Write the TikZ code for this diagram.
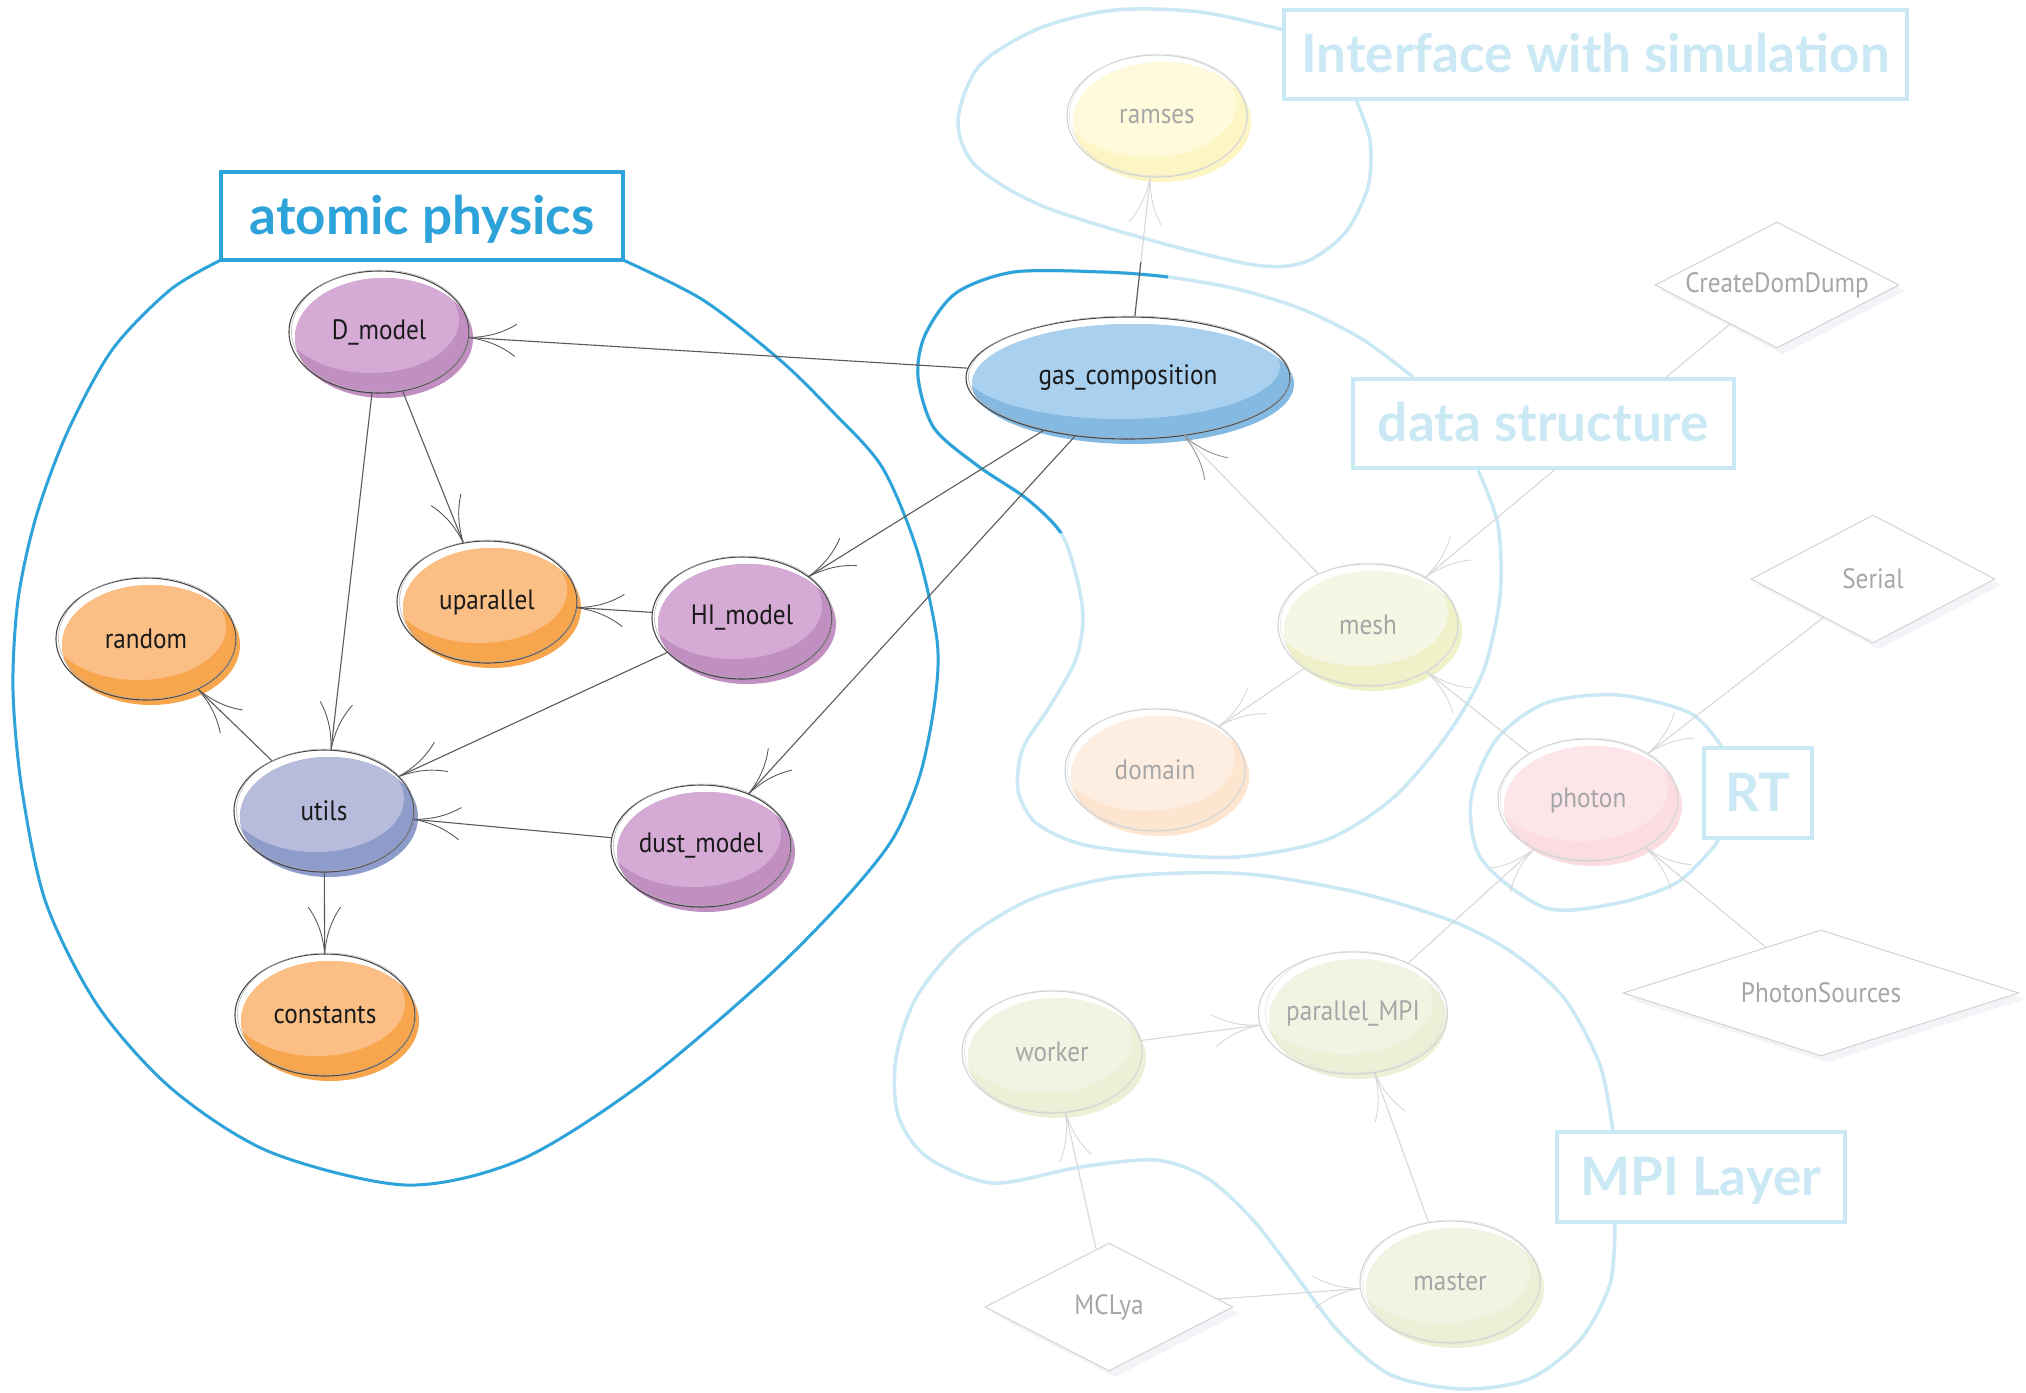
\documentclass[tikz,border=0pt]{standalone}
\usepackage{fontspec}
\usetikzlibrary{shapes.geometric,decorations.markings}
\newfontfamily\nodefont[FakeStretch=0.9]{PT Sans}
\newfontfamily\labelfont{Lato}

% palette
\definecolor{atomblue}{HTML}{2EA3DA}
\definecolor{paleblue}{HTML}{CBE8F5}
\definecolor{edgedark}{HTML}{5A5A5A}
\definecolor{edgepale}{HTML}{D8D8D8}
\definecolor{rimdark}{HTML}{474747}
\definecolor{rimpale}{HTML}{D2D2D2}
\definecolor{inkdark}{HTML}{1A1A1A}
\definecolor{txtpale}{HTML}{A6A6A6}
\definecolor{kiteshadecol}{HTML}{F2F4F8}
\definecolor{plL}{HTML}{D5AAD5}\definecolor{plD}{HTML}{C18FC1}
\definecolor{orL}{HTML}{FBBF86}\definecolor{orD}{HTML}{F8A64E}
\definecolor{utL}{HTML}{B8BCDC}\definecolor{utD}{HTML}{8E9CCB}
\definecolor{gsL}{HTML}{A9D0EF}\definecolor{gsD}{HTML}{84B9E1}
\definecolor{rmL}{HTML}{FEFADB}\definecolor{rmD}{HTML}{FDF5C4}
\definecolor{msL}{HTML}{F5F6E4}\definecolor{msD}{HTML}{EFF2C9}
\definecolor{dmL}{HTML}{FDEEE1}\definecolor{dmD}{HTML}{FDE5CF}
\definecolor{phL}{HTML}{FCE6E9}\definecolor{phD}{HTML}{FADCE1}
\definecolor{grL}{HTML}{F0F5E3}\definecolor{grD}{HTML}{EAF1D6}

\tikzset{
  solidnode/.style={ellipse, draw=rimdark, line width=1.1pt, inner sep=0pt,
    text=inkdark, font=\nodefont\fontsize{28pt}{30pt}\selectfont},
  palenode/.style={solidnode, draw=rimpale, text=txtpale},
  solidnoderim/.style={draw=rimdark!45, line width=0.5pt},
  palenoderim/.style={draw=rimpale!70, line width=0.5pt},
  kite/.style={diamond, shape aspect=2, draw=rimpale, line width=1pt, fill=white, inner sep=0pt,
    text=txtpale, font=\nodefont\fontsize{28pt}{30pt}\selectfont},
  kiteshade/.style={fill=kiteshadecol},
  link/.style={draw=edgedark, line width=1.1pt},
  palelink/.style={draw=edgepale, line width=1.1pt},
  barbs/.style={postaction={decorate, decoration={markings,
    mark=at position 0.999 with {\draw[#1, line width=0.9pt, line cap=round]
      (0pt,0pt) .. controls (-15pt,1.5pt) and (-30pt,5pt) .. (-46pt,16pt)
      (0pt,0pt) .. controls (-15pt,-1.5pt) and (-30pt,-5pt) .. (-46pt,-16pt);}}}},
  groupline/.style={draw=atomblue, line width=3pt},
  paleline/.style={draw=paleblue, line width=3.5pt},
  tagbox/.style={rectangle, fill=white, inner sep=0pt, text height=36pt, text depth=0pt,
    font=\labelfont\bfseries\fontsize{53pt}{60pt}\selectfont},
  atomtag/.style={tagbox, draw=atomblue, text=atomblue, line width=3.5pt},
  paletag/.style={tagbox, draw=paleblue, text=paleblue, line width=4pt},
}

% module bubble: name, x, y, rx, ry, light, dark, kind, text
\newcommand\bubble[9]{%
  \fill[#7] ({#2+5},{#3+6}) ellipse [x radius={#4-1}, y radius={#5-1}];
  \begin{scope}
    \clip ({#2+5},{#3+6}) ellipse [x radius={#4-1}, y radius={#5-1}];
    \fill[#6] ({#2-8},{#3-12}) ellipse [x radius={#4-2}, y radius={#5-8}];
  \end{scope}
  \node[#8, minimum width={2*#4pt}, minimum height={2*#5pt}] (#1) at (#2,#3) {#9};
  \draw[#8rim] ({#2+1.5},{#3-1}) ellipse [x radius={#4-1}, y radius={#5}];
}
% program diamond: name, x, y, half width, half height, text
\newcommand\kitenode[6]{%
  \fill[kiteshade] ({#2+6},{#3-#5+6}) -- ({#2+#4+6},{#3+6}) -- ({#2+6},{#3+#5+6}) -- ({#2-#4+6},{#3+6}) -- cycle;
  \node[kite, minimum width={2*#4pt}, minimum height={2*#5pt}] (#1) at (#2,#3) {#6};
}
% outline of the data structure group
\newcommand\datacurve[1]{%
  \draw[#1] plot[smooth] coordinates {(1413,377) (1362,339) (1304,310) (1237,289) (1168,277)
    (1103,272) (1014,272) (956,293) (925,335) (918,377) (934,428) (978,466) (1027,499)
    (1061,533) (1076,575) (1083,617) (1076,659) (1050,706) (1023,748) (1018,790) (1036,823)
    (1081,844) (1148,853) (1237,857) (1326,840) (1393,798) (1447,735) (1483,672) (1500,596)
    (1498,525) (1478,470)};
}

\begin{document}
\begin{tikzpicture}[x=1pt, y=-1pt]
\fill[white] (0,0) rectangle (2026,1392);
\useasboundingbox (0,0) rectangle (2026,1392);

% ---- group outlines ----
\draw[groupline] plot[smooth] coordinates {(221,260) (170,290) (112,350) (67,433) (36,517)
  (18,600) (13,690) (22,790) (46,903) (98,1006) (172,1089) (270,1152) (406,1185) (520,1160)
  (640,1085) (762,982) (840,904) (892,840) (920,775) (935,700) (937,640) (917,550) (882,467)
  (831,410) (780,360) (703,300) (623,260)};
\draw[paleline] plot[smooth] coordinates {(1284,30) (1200,12) (1115,10) (1040,28) (980,65)
  (958,120) (975,165) (1040,205) (1150,240) (1255,265) (1305,262) (1345,233) (1368,187)
  (1370,140) (1356,100)};
\datacurve{paleline}
\begin{scope}
  \clip (880,200) -- (1168,200) -- (1168,320) -- (1078,533) -- (880,533) -- cycle;
  \datacurve{groupline}
\end{scope}
\draw[paleline] plot[smooth] coordinates {(1722,747) (1690,713) (1618,695) (1546,703)
  (1496,740) (1471,800) (1482,860) (1546,908) (1618,903) (1676,883) (1711,850) (1719,838)};
\draw[paleline] plot[smooth] coordinates {(1613,1132) (1600,1065) (1564,998) (1513,953)
  (1452,921) (1360,893) (1258,875) (1182,873) (1105,879) (1029,900) (962,942) (916,998)
  (896,1058) (898,1115) (927,1157) (993,1183) (1080,1167) (1156,1160) (1207,1178) (1253,1220)
  (1294,1273) (1340,1333) (1391,1375) (1462,1389) (1529,1379) (1580,1340) (1610,1284) (1615,1224)};

% ---- atomic physics modules ----
\bubble{Dm}{379}{332}{90}{61}{plL}{plD}{solidnode}{D\_model}
\bubble{upar}{487}{602}{90}{61}{orL}{orD}{solidnode}{uparallel}
\bubble{HI}{742}{618}{90}{61}{plL}{plD}{solidnode}{HI\_model}
\bubble{rnd}{146}{639}{90}{61}{orL}{orD}{solidnode}{random}
\bubble{utils}{324}{811}{90}{61}{utL}{utD}{solidnode}{utils}
\bubble{dust}{701}{846}{90}{61}{plL}{plD}{solidnode}{dust\_model}
\bubble{const}{325}{1015}{90}{61}{orL}{orD}{solidnode}{constants}
\bubble{gas}{1128}{378}{162}{61}{gsL}{gsD}{solidnode}{gas\_composition}

% ---- other modules ----
\bubble{ramses}{1157}{116}{90}{61}{rmL}{rmD}{palenode}{ramses}
\bubble{mesh}{1368}{625}{90}{61}{msL}{msD}{palenode}{mesh}
\bubble{domain}{1155}{770}{90}{61}{dmL}{dmD}{palenode}{domain}
\bubble{photon}{1588}{800}{90}{61}{phL}{phD}{palenode}{photon}
\bubble{worker}{1052}{1052}{90}{61}{grL}{grD}{palenode}{worker}
\bubble{pmpi}{1353}{1013}{90}{61}{grL}{grD}{palenode}{parallel\_MPI}
\bubble{master}{1450}{1282}{90}{61}{grL}{grD}{palenode}{master}

% ---- programs ----
\kitenode{cdd}{1777}{285}{122}{63}{CreateDomDump}
\kitenode{serial}{1873}{579}{122}{64}{Serial}
\kitenode{psrc}{1821}{993}{198}{63}{PhotonSources}
\kitenode{mclya}{1109}{1307}{124}{64}{MCLya}

% ---- dependencies ----
\draw[link, barbs=edgedark] (gas) -- (Dm);
\draw[link, barbs=edgedark] (Dm) -- (upar);
\draw[link, barbs=edgedark] (Dm) -- (utils);
\draw[link, barbs=edgedark] (HI) -- (upar);
\draw[link, barbs=edgedark] (gas) -- (HI);
\draw[link, barbs=edgedark] (gas) -- (dust);
\draw[link, barbs=edgedark] (HI) -- (utils);
\draw[link, barbs=edgedark] (dust) -- (utils);
\draw[link, barbs=edgedark] (utils) -- (rnd);
\draw[link, barbs=edgedark] (utils) -- (const);

\draw[palelink, barbs=edgepale] (gas) -- (ramses);
\begin{scope}
  \clip (1000,262) rectangle (1300,330);
  \draw[link] (gas) -- (ramses);
\end{scope}

\draw[palelink, barbs=gray!85] (mesh) -- (gas);
\draw[palelink, barbs=edgepale] (cdd) -- (mesh);
\draw[palelink, barbs=edgepale] (mesh) -- (domain);
\draw[palelink, barbs=edgepale] (photon) -- (mesh);
\draw[palelink, barbs=edgepale] (serial) -- (photon);
\draw[palelink, barbs=edgepale] (pmpi) -- (photon);
\draw[palelink, barbs=edgepale] (psrc) -- (photon);
\draw[palelink, barbs=edgepale] (worker) -- (pmpi);
\draw[palelink, barbs=edgepale] (master) -- (pmpi);
\draw[palelink, barbs=edgepale] (mclya) -- (worker);
\draw[palelink, barbs=edgepale] (mclya) -- (master);

% ---- group titles ----
\node[atomtag, minimum width=402pt, minimum height=88pt] (tagatomic) at (422,216) {atomic physics};
\node[paletag, minimum width=623pt, minimum height=89pt] (taginterface) at (1595.5,54.5) {Interface with simulation};
\node[paletag, minimum width=381pt, minimum height=89pt] (tagdata) at (1543.5,423.5) {data structure};
\node[paletag, minimum width=108pt, minimum height=90pt] (tagrt) at (1758,793) {RT};
\node[paletag, minimum width=288pt, minimum height=90pt] (tagmpi) at (1701,1177) {MPI Layer};
\end{tikzpicture}
\end{document}
